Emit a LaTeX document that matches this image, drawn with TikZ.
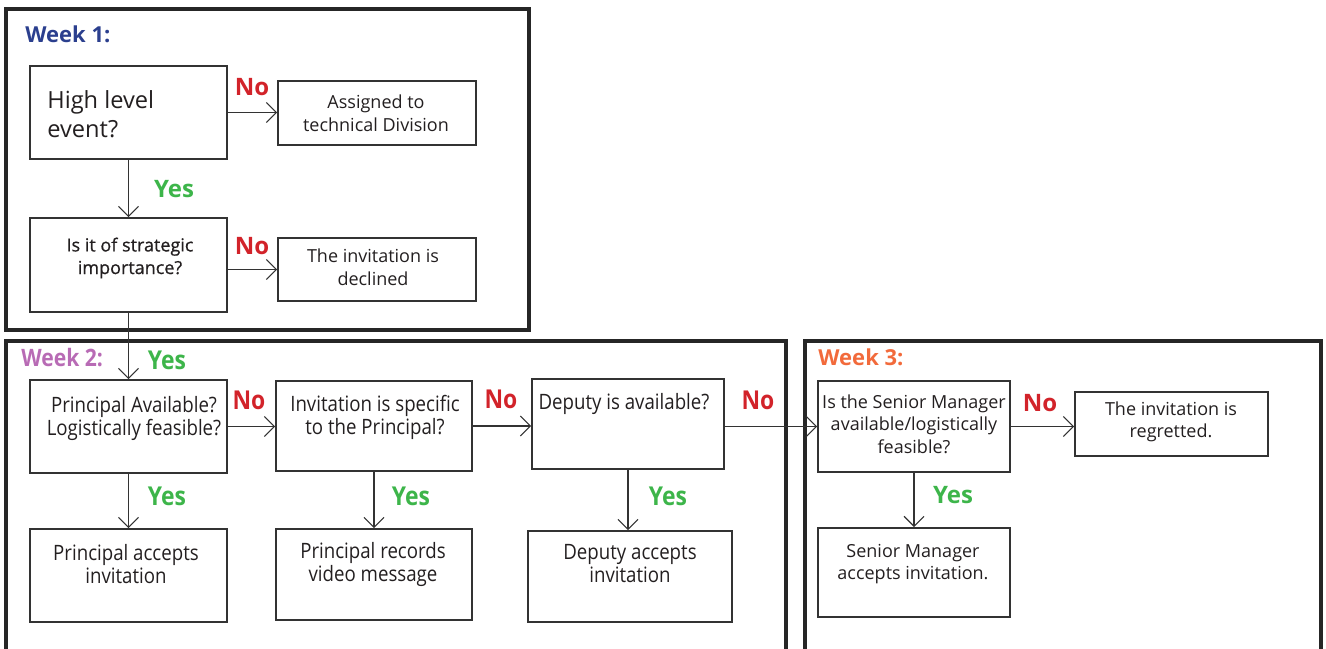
\documentclass[tikz,border=0pt]{standalone}
\usepackage{fontspec}
\setmainfont{Open Sans}
\newfontfamily\condfont[FakeStretch=0.88]{Open Sans}
\newfontfamily\medfont[FakeBold=0.7]{Open Sans}
\usetikzlibrary{arrows.meta,fit}
\definecolor{wkone}{HTML}{2B3F8E}
\definecolor{wktwo}{HTML}{B86BB5}
\definecolor{wkthree}{HTML}{F26A3B}
\definecolor{noc}{HTML}{D2232A}
\definecolor{yesc}{HTML}{3DB54A}
\definecolor{textc}{HTML}{231F20}
\definecolor{linec}{HTML}{333333}
\begin{document}
\begin{tikzpicture}[x=0.5pt,y=-0.5pt,
  frame/.style={draw=black!85, line width=1.6pt, inner sep=0pt},
  box/.style={draw=linec, line width=0.8pt, inner sep=0pt},
  txt/.style={text=textc, align=center, inner sep=0pt, font=\fontsize{9}{11.3}\selectfont},
  ctxt/.style={txt, font=\condfont\fontsize{10.6}{11.5}\selectfont},
  nolab/.style={text=noc, inner sep=0pt, font=\bfseries\fontsize{12}{14}\selectfont},
  cnolab/.style={text=noc, inner sep=0pt, font=\condfont\bfseries\fontsize{13}{14}\selectfont},
  yeslab/.style={text=yesc, inner sep=0pt, font=\bfseries\fontsize{12}{14}\selectfont},
  cyeslab/.style={text=yesc, inner sep=0pt, font=\condfont\bfseries\fontsize{13}{14}\selectfont},
  wk/.style={anchor=west, inner sep=0pt, font=\bfseries\fontsize{11}{13}\selectfont},
  arr/.style={draw=linec, line width=0.6pt, -{Straight Barb[length=5pt,width=10pt]}}
]
\clip (0,0) rectangle (1326,648);
% week frames
\node[frame, fit={(6,9) (529,330)}] (wk1) {};
\node[frame, fit={(6,341) (786,680)}] (wk2) {};
\node[frame, fit={(805,341) (1321,680)}] (wk3) {};
\node[wk, text=wkone] (w1) at (25,34) {Week 1:};
\node[wk, text=wktwo, font=\condfont\bfseries\fontsize{12}{13}\selectfont] (w2) at (21,358) {Week 2:};
\node[wk, text=wkthree] (w3) at (818,357) {Week 3:};
% boxes
\node[box, fit={(30,66) (227,159)}] (A) {};
\node[box, fit={(278,81) (476,145)}] (B) {};
\node[box, fit={(30,218) (227,312)}] (C) {};
\node[box, fit={(278,238) (476,301)}] (D) {};
\node[box, fit={(30,380) (227,473)}] (E) {};
\node[box, fit={(276,381) (472,471)}] (F) {};
\node[box, fit={(532,379) (724,469)}] (G) {};
\node[box, fit={(818,381) (1010,472)}] (H) {};
\node[box, fit={(1075,392) (1268,456)}] (I) {};
\node[box, fit={(30,529) (227,622)}] (J) {};
\node[box, fit={(276,529) (472,620)}] (K) {};
\node[box, fit={(528,531) (732,622)}] (L) {};
\node[box, fit={(818,528) (1010,617)}] (M) {};
% texts
\node[txt, anchor=west, align=left, font=\fontsize{11.8}{14.2}\selectfont] (At) at (47,114) {High level\\event?};
\node[txt] (Bt) at (376,113) {Assigned to\\technical Division};
\node[txt, font=\medfont\fontsize{9}{11.3}\selectfont] (Ct) at (130,258) {Is it of strategic\\importance?};
\node[txt] (Dt) at (373,267) {The invitation is\\declined};
\node[ctxt] (Et) at (134,418) {Principal Available?\\Logistically feasible?};
\node[ctxt] (Ft) at (375,417) {Invitation is specific\\to the Principal?};
\node[ctxt] (Gt) at (624,404) {Deputy is available?};
\node[txt] (Ht) at (914,424) {Is the Senior Manager\\available/logistically\\feasible?};
\node[txt] (It) at (1171,422) {The invitation is\\regretted.};
\node[ctxt] (Jt) at (126,564) {Principal accepts\\invitation};
\node[ctxt] (Kt) at (373,564) {Principal records\\video message};
\node[ctxt] (Lt) at (630,564) {Deputy accepts\\invitation};
\node[txt] (Mt) at (913,564) {Senior Manager\\accepts invitation.};
% labels
\node[nolab] (n1) at (252,87) {No};
\node[nolab] (n2) at (252,246) {No};
\node[cnolab] (n3) at (249,400) {No};
\node[cnolab] (n4) at (501,399) {No};
\node[cnolab] (n5) at (758,400) {No};
\node[nolab] (n6) at (1040,403) {No};
\node[yeslab] (y1) at (174,189) {Yes};
\node[cyeslab] (y2) at (167,360) {Yes};
\node[cyeslab] (y3) at (167,496) {Yes};
\node[cyeslab] (y4) at (411,496) {Yes};
\node[cyeslab] (y5) at (668,496) {Yes};
\node[yeslab] (y6) at (953,495) {Yes};
% connectors
\draw[arr] (A.east) -- (A.east -| B.west);
\draw[arr] (A) -- (C);
\draw[arr] (C.east |- D.west) -- (D.west);
\draw[arr] (C) -- (E);
\draw[arr] (E.east) -- (E.east -| F.west);
\draw[arr] (F.east) -- (F.east -| G.west);
\draw[arr] (G.east |- H.west) -- (H.west);
\draw[arr] (H.east) -- (H.east -| I.west);
\draw[arr] (E) -- (J);
\draw[arr] (F) -- (K);
\draw[arr] (G.south) -- (G.south |- L.north);
\draw[arr] (H) -- (M);
\end{tikzpicture}
\end{document}
